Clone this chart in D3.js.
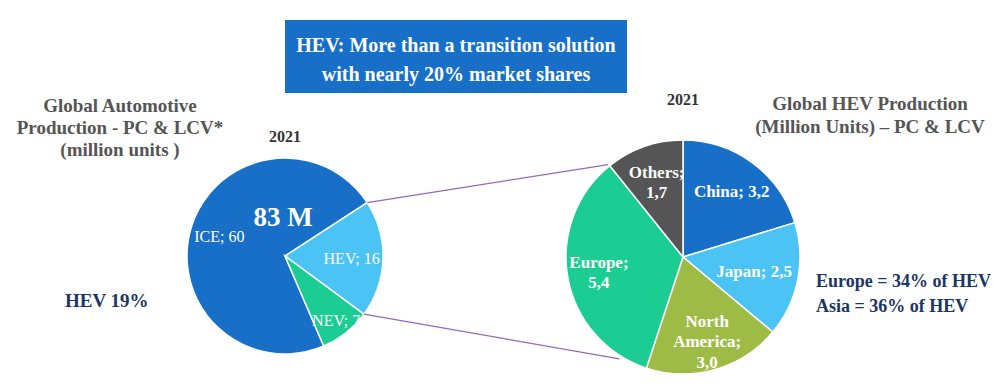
<!DOCTYPE html>
<html lang="en">
<head>
<meta charset="UTF-8">
<title>HEV production</title>
<script src="https://cdn.jsdelivr.net/npm/d3@7"></script>
<style>
  html, body { margin: 0; padding: 0; background: #fff; }
  svg text { font-family: "Liberation Serif", "Times New Roman", serif; }
</style>
</head>
<body>
<script>
    // global production 2021 (million units)
    var globalCats = ["ICE", "HEV", "NEV"];
    var globalVals = [60, 16, 7];

    // HEV production by region 2021 (million units)
    var hevCats = ["China", "Japan", "North America", "Europe", "Others"];
    var hevVals = [3.2, 2.5, 3.0, 5.4, 1.7];

    var globalColors = {"ICE": "#176fc7", "HEV": "#4bc4f5", "NEV": "#1ccd93"};
    var hevColors = {"China": "#176fc7", "Japan": "#4bc4f5", "North America": "#9dbb45",
        "Europe": "#1ccd93", "Others": "#555555"};

    var W = 1000, H = 392;
    var svg = d3.select("body").append("svg")
        .attr("width", W)
        .attr("height", H);

    var fmt = function (v) { return d3.format(".1f")(v).replace(".", ","); };

    // ---- title box
    svg.append("rect")
        .attr("x", 285).attr("y", 20)
        .attr("width", 342).attr("height", 73)
        .attr("fill", "#176fc7");
    svg.append("text")
        .attr("x", 456).attr("y", 52)
        .attr("text-anchor", "middle")
        .attr("fill", "#fff").attr("font-weight", "bold").attr("font-size", 20)
        .text("HEV: More than a transition solution");
    svg.append("text")
        .attr("x", 456).attr("y", 81)
        .attr("text-anchor", "middle")
        .attr("fill", "#fff").attr("font-weight", "bold").attr("font-size", 20)
        .text("with nearly 20% market shares");

    // ---- left pie
    var leftC = [285, 256], leftR = 98;
    var globalData = globalCats.map(function (c, i) { return {cat: c, value: globalVals[i]}; });
    var total = d3.sum(globalVals);

    // HEV slice starts at about 57 degrees
    var hevStart = 57 * Math.PI / 180;
    var iceAngle = globalVals[0] / total * 2 * Math.PI;
    var leftPie = d3.pie().sort(null).value(function (d) { return d.value; })
        .startAngle(hevStart - iceAngle)
        .endAngle(hevStart - iceAngle + 2 * Math.PI);
    var leftArcs = leftPie(globalData);
    var leftArc = d3.arc().innerRadius(0).outerRadius(leftR);

    var gl = svg.append("g").attr("transform", "translate(" + leftC + ")");
    gl.selectAll("path")
        .data(leftArcs)
        .enter()
        .append("path")
        .attr("d", leftArc)
        .attr("fill", function (d) { return globalColors[d.data.cat]; })
        .attr("stroke", "#fff")
        .attr("stroke-width", 1.5);

    var leftLabelR = {"ICE": 0.7, "HEV": 0.68, "NEV": 0.84};
    gl.selectAll("text.lab")
        .data(leftArcs)
        .enter()
        .append("text")
        .attr("class", "lab")
        .attr("transform", function (d) {
            var r = leftR * leftLabelR[d.data.cat];
            var a = (d.startAngle + d.endAngle) / 2;
            return "translate(" + (r * Math.sin(a)) + "," + (-r * Math.cos(a)) + ")";
        })
        .attr("dy", "0.35em")
        .attr("text-anchor", "middle")
        .attr("fill", "#fff")
        .attr("font-size", 16)
        .text(function (d) { return d.data.cat + "; " + d.data.value; });

    gl.append("text")
        .attr("x", -2).attr("y", -30)
        .attr("text-anchor", "middle")
        .attr("fill", "#fff").attr("font-weight", "bold").attr("font-size", 27)
        .text(total + " M");

    // ---- right pie
    var rightC = [683, 257], rightR = 117;
    var hevData = hevCats.map(function (c, i) { return {cat: c, value: hevVals[i]}; });
    var rightPie = d3.pie().sort(null).value(function (d) { return d.value; });
    var rightArcs = rightPie(hevData);
    var rightArc = d3.arc().innerRadius(0).outerRadius(rightR);

    var gr = svg.append("g").attr("transform", "translate(" + rightC + ")");
    gr.selectAll("path")
        .data(rightArcs)
        .enter()
        .append("path")
        .attr("d", rightArc)
        .attr("fill", function (d) { return hevColors[d.data.cat]; })
        .attr("stroke", "#fff")
        .attr("stroke-width", 1.5);

    var rightLabelR = {"China": 0.7, "Japan": 0.62, "North America": 0.75, "Europe": 0.73, "Others": 0.68};
    var rightLines = {
        "China": function (d) { return ["China; " + fmt(d.value)]; },
        "Japan": function (d) { return ["Japan; " + fmt(d.value)]; },
        "North America": function (d) { return ["North", "America;", fmt(d.value)]; },
        "Europe": function (d) { return ["Europe;", fmt(d.value)]; },
        "Others": function (d) { return ["Others;", fmt(d.value)]; }
    };
    var rl = gr.selectAll("text.lab")
        .data(rightArcs)
        .enter()
        .append("text")
        .attr("class", "lab")
        .attr("text-anchor", "middle")
        .attr("fill", "#fff")
        .attr("font-weight", "bold")
        .attr("font-size", 17)
        .attr("transform", function (d) {
            var r = rightR * rightLabelR[d.data.cat];
            var a = (d.startAngle + d.endAngle) / 2;
            return "translate(" + (r * Math.sin(a)) + "," + (-r * Math.cos(a)) + ")";
        });
    rl.each(function (d) {
        var lines = rightLines[d.data.cat](d.data);
        var t = d3.select(this);
        lines.forEach(function (s, i) {
            t.append("tspan")
                .attr("x", 0)
                .attr("y", (i - (lines.length - 1) / 2) * 20.5)
                .attr("dy", "0.35em")
                .text(s);
        });
    });

    // ---- connector lines (HEV slice -> right pie)
    var hevArc = leftArcs[1];
    function onCircle(c, r, a) { return [c[0] + r * Math.sin(a), c[1] - r * Math.cos(a)]; }
    var conn = [
        [onCircle(leftC, leftR, hevArc.startAngle), onCircle(rightC, rightR + 2, 321 * Math.PI / 180)],
        [onCircle(leftC, leftR, hevArc.endAngle), onCircle(rightC, rightR + 3, 212 * Math.PI / 180)]
    ];
    svg.selectAll("line.conn")
        .data(conn)
        .enter()
        .append("line")
        .attr("class", "conn")
        .attr("x1", function (d) { return d[0][0]; })
        .attr("y1", function (d) { return d[0][1]; })
        .attr("x2", function (d) { return d[1][0]; })
        .attr("y2", function (d) { return d[1][1]; })
        .attr("stroke", "#9966bb")
        .attr("stroke-width", 1.3);

    // ---- other texts
    var leftTitle = ["Global Automotive", "Production - PC & LCV*", "(million units )"];
    svg.selectAll("text.lt")
        .data(leftTitle)
        .enter()
        .append("text")
        .attr("class", "lt")
        .attr("x", 120)
        .attr("y", function (d, i) { return 112 + i * 22; })
        .attr("text-anchor", "middle")
        .attr("fill", "#555")
        .attr("font-weight", "bold")
        .attr("font-size", 19)
        .text(function (d) { return d; });

    var rightTitle = ["Global HEV Production", "(Million Units) \u2013 PC & LCV"];
    svg.selectAll("text.rt")
        .data(rightTitle)
        .enter()
        .append("text")
        .attr("class", "rt")
        .attr("x", 870)
        .attr("y", function (d, i) { return 110 + i * 23; })
        .attr("text-anchor", "middle")
        .attr("fill", "#555")
        .attr("font-weight", "bold")
        .attr("font-size", 19)
        .text(function (d) { return d; });

    svg.append("text")
        .attr("x", 285).attr("y", 142)
        .attr("text-anchor", "middle")
        .attr("fill", "#333").attr("font-weight", "bold").attr("font-size", 16)
        .text("2021");
    svg.append("text")
        .attr("x", 683).attr("y", 105)
        .attr("text-anchor", "middle")
        .attr("fill", "#333").attr("font-weight", "bold").attr("font-size", 16)
        .text("2021");

    svg.append("text")
        .attr("x", 65).attr("y", 307)
        .attr("fill", "#1b3564").attr("font-weight", "bold").attr("font-size", 19)
        .text("HEV 19%");

    var notes = ["Europe = 34% of HEV", "Asia = 36% of HEV"];
    svg.selectAll("text.note")
        .data(notes)
        .enter()
        .append("text")
        .attr("class", "note")
        .attr("x", 816)
        .attr("y", function (d, i) { return 287 + i * 25; })
        .attr("fill", "#1b3564")
        .attr("font-weight", "bold")
        .attr("font-size", 18)
        .text(function (d) { return d; });
</script>
</body>
</html>
